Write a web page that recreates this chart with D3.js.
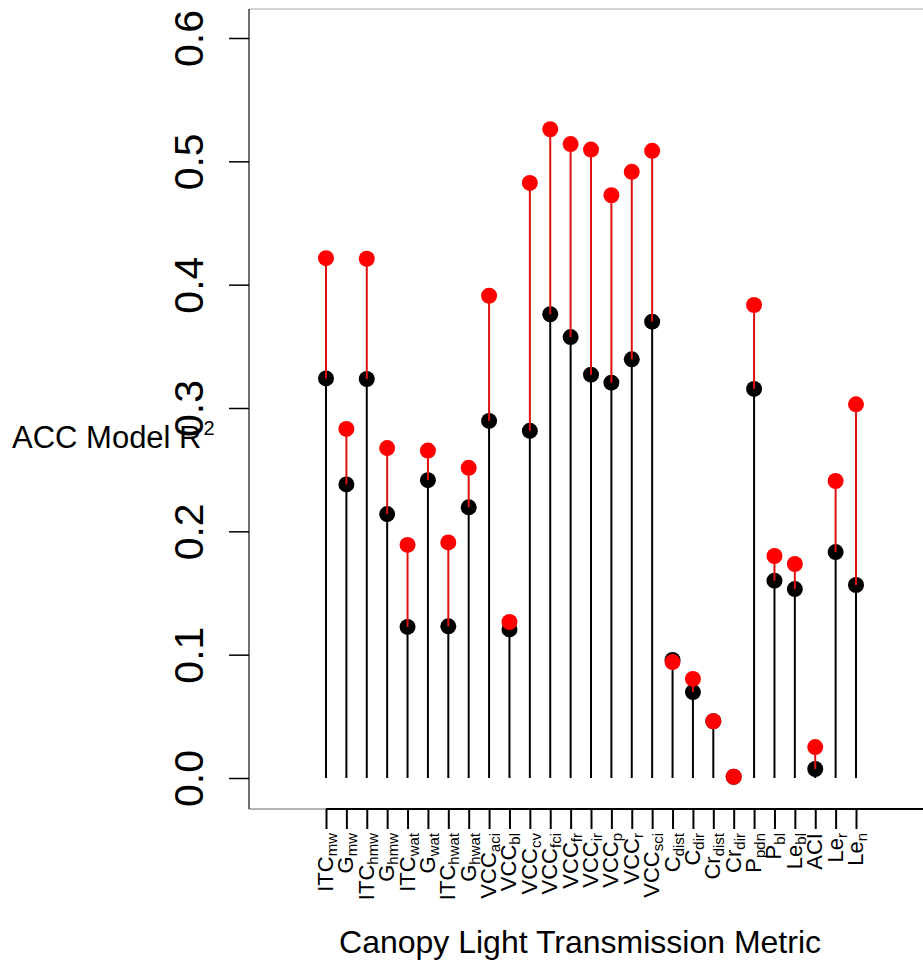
<!DOCTYPE html>
<html>
<head>
<meta charset="utf-8">
<script src="https://cdn.jsdelivr.net/npm/d3@7"></script>
<style>
  body { margin: 0; background: #fff; }
  svg { display: block; font-family: 'Liberation Sans', Arial, sans-serif; }
</style>
</head>
<body>
<div id="chart"></div>
<script>
// Metric labels: main text and subscript
const labelMain = ['ITC', 'G', 'ITC', 'G', 'ITC', 'G', 'ITC', 'G', 'VCC', 'VCC', 'VCC', 'VCC', 'VCC', 'VCC',
  'VCC', 'VCC', 'VCC', 'C', 'C', 'Cr', 'Cr', 'P', 'P', 'Le', 'ACI', 'Le', 'Le']
const labelSub = ['mw', 'mw', 'hmw', 'hmw', 'wat', 'wat', 'hwat', 'hwat', 'aci', 'bl', 'cv', 'fci', 'fr', 'ir',
  'p', 'r', 'sci', 'dist', 'dir', 'dist', 'dir', 'pdn', 'bl', 'bl', '', 'r', 'n']

// R2 values (black = base model, red = full model)
const baseR2 = [0.324, 0.238, 0.3235, 0.214, 0.1225, 0.2415, 0.123, 0.2195, 0.2895, 0.1205, 0.2815, 0.376,
  0.3575, 0.327, 0.3205, 0.3395, 0.37, 0.0957, 0.0697, 0.046, 0.001, 0.3155, 0.16, 0.1532, 0.0073, 0.1832, 0.1565]
const fullR2 = [0.4215, 0.283, 0.421, 0.2675, 0.189, 0.2655, 0.191, 0.2515, 0.391, 0.1265, 0.4825, 0.526,
  0.514, 0.5095, 0.4725, 0.4915, 0.5085, 0.094, 0.0803, 0.046, 0.001, 0.3835, 0.18, 0.1735, 0.0251, 0.2408, 0.303]

const yTicks = [0, 0.1, 0.2, 0.3, 0.4, 0.5, 0.6]

const width = 923
const height = 964
const plot = { left: 249, right: 923, top: 9, bottom: 809 }

const data = labelMain.map((m, i) => ({ key: i, main: m, sub: labelSub[i], base: baseR2[i], full: fullR2[i] }))

const svg = d3.select('#chart')
  .append('svg')
  .attr('width', width)
  .attr('height', height)

// Scales
const xScale = d3.scalePoint()
  .domain(data.map(d => d.key))
  .range([326, 856])

const yScale = d3.scaleLinear()
  .domain([0, 0.6])
  .range([778, 38])

// Box
svg.append('line')
  .attr('x1', plot.left).attr('x2', plot.right)
  .attr('y1', plot.top).attr('y2', plot.top)
  .attr('stroke', '#a8a8a8').attr('stroke-width', 1.2)
svg.append('line')
  .attr('x1', plot.left).attr('x2', plot.right)
  .attr('y1', plot.bottom).attr('y2', plot.bottom)
  .attr('stroke', '#666').attr('stroke-width', 1)
svg.append('line')
  .attr('x1', plot.left).attr('x2', plot.left)
  .attr('y1', plot.top).attr('y2', plot.bottom)
  .attr('stroke', '#222').attr('stroke-width', 1.3)

// Axis titles (drawn before tick labels so the 0.3 label sits on top)
const yTitle = svg.append('text')
  .attr('x', 12)
  .attr('y', 448)
  .style('font-size', '31px')
yTitle.append('tspan').text('ACC Model R')
yTitle.append('tspan').attr('dx', 2).attr('dy', -13).style('font-size', '20px').text('2')

svg.append('text')
  .attr('x', 580)
  .attr('y', 953)
  .attr('text-anchor', 'middle')
  .style('font-size', '32px')
  .text('Canopy Light Transmission Metric')

// Left axis - R2
const yAxis = svg.append('g')
  .attr('transform', `translate(${plot.left},0)`)
  .call(d3.axisLeft(yScale).tickValues(yTicks).tickFormat(d3.format('.1f')).tickSize(20))
yAxis.select('.domain').remove()
yAxis.selectAll('.tick line').attr('stroke', '#000').attr('stroke-width', 1.5)
yAxis.selectAll('.tick text')
  .attr('x', 0).attr('dy', 0)
  .attr('transform', 'translate(-46,0) rotate(-90)')
  .attr('text-anchor', 'middle')
  .attr('fill', '#000')
  .style('font-size', '41px')
  .style('font-family', "'Liberation Sans', Arial, sans-serif")

// Bottom axis - metrics
const xAxis = svg.append('g')
  .attr('transform', `translate(0,${plot.bottom})`)
  .call(d3.axisBottom(xScale).tickSize(20).tickFormat(''))
xAxis.select('.domain').remove()
xAxis.selectAll('.tick line').attr('stroke', '#000').attr('stroke-width', 2)
svg.append('line')
  .attr('x1', xScale(0)).attr('x2', plot.right)
  .attr('y1', plot.bottom).attr('y2', plot.bottom)
  .attr('stroke', '#000').attr('stroke-width', 2)

const labels = svg.append('g')
  .selectAll('text')
  .data(data)
  .join('text')
  .attr('transform', d => `translate(${xScale(d.key) + 7},833) rotate(-90)`)
  .attr('text-anchor', 'end')
  .attr('fill', '#000')
labels.append('tspan')
  .style('font-size', '22px')
  .text(d => d.main)
labels.append('tspan')
  .style('font-size', '15px')
  .attr('dy', 4)
  .text(d => d.sub)

// Black stems from zero to base value
svg.append('g')
  .selectAll('line')
  .data(data)
  .join('line')
  .attr('x1', d => xScale(d.key)).attr('x2', d => xScale(d.key))
  .attr('y1', yScale(0)).attr('y2', d => yScale(d.base))
  .attr('stroke', '#000').attr('stroke-width', 2)

svg.append('g')
  .selectAll('circle')
  .data(data)
  .join('circle')
  .attr('cx', d => xScale(d.key))
  .attr('cy', d => yScale(d.base))
  .attr('r', 8)
  .attr('fill', '#000')

// Red segments from base to full value
svg.append('g')
  .selectAll('line')
  .data(data)
  .join('line')
  .attr('x1', d => xScale(d.key)).attr('x2', d => xScale(d.key))
  .attr('y1', d => yScale(d.base)).attr('y2', d => yScale(d.full))
  .attr('stroke', '#e01010').attr('stroke-width', 2)

svg.append('g')
  .selectAll('circle')
  .data(data)
  .join('circle')
  .attr('cx', d => xScale(d.key))
  .attr('cy', d => yScale(d.full))
  .attr('r', 8)
  .attr('fill', '#ff0000')
</script>
</body>
</html>
